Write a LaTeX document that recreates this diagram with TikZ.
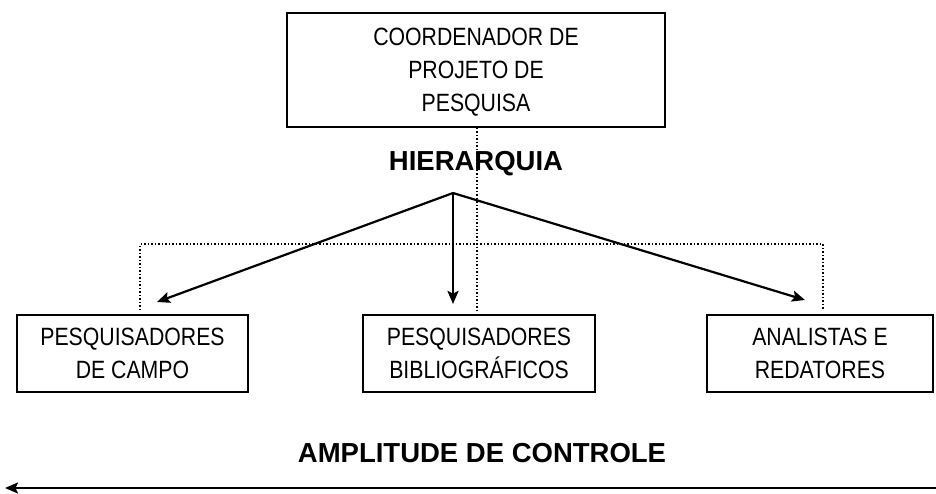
\documentclass[tikz,border=0pt]{standalone}
\usepackage{fontspec}
\setmainfont{Liberation Sans}
\newfontfamily\narrowfont{Liberation Sans}[FakeStretch=0.85]
\usetikzlibrary{arrows.meta}
\begin{document}
\begin{tikzpicture}[x=1pt,y=-1pt,
  box/.style={draw, line width=2pt, rectangle, align=center, inner sep=0pt,
    text depth=0pt, font=\narrowfont\fontsize{25}{33}\selectfont},
  title/.style={font=\fontsize{27.5}{30}\selectfont\bfseries, inner sep=0pt},
  dots/.style={dotted, line width=1.5pt},
  arr/.style={line width=2.2pt, -{Stealth[length=13pt,width=11pt,inset=2.5pt]}}
]
\useasboundingbox (0,0) rectangle (936,493);
\node[box, minimum width=378pt, minimum height=114pt] (coord) at (476,69.5)
  {COORDENADOR DE\\PROJETO DE\\PESQUISA};
\node[title] (hier) at (476,164) {HIERARQUIA};
\node[box, minimum width=231pt, minimum height=77pt] (campo) at (132.5,353.5)
  {PESQUISADORES\\DE CAMPO};
\node[box, minimum width=232pt, minimum height=77pt] (biblio) at (479,353.5)
  {PESQUISADORES\\BIBLIOGRÁFICOS};
\node[box, minimum width=226pt, minimum height=77pt] (anal) at (820,353.5)
  {ANALISTAS E\\REDATORES};
\node[title] (ampl) at (482,453) {AMPLITUDE DE CONTROLE};
% dotted lines
\coordinate (dl) at (140,310);
\coordinate (dr) at (823,310);
\coordinate (dm) at (477,310);
\draw[dots] (dl) -- (140,244) -- (823,244) -- (dr);
\draw[dots] (coord.south -| dm) -- (dm);
% arrows
\coordinate (apex) at (453,193);
\coordinate (tl) at (157,302);
\coordinate (tm) at (453,304);
\coordinate (tr) at (805,300);
\draw[arr] (apex) -- (tl);
\draw[arr] (apex) -- (tm);
\draw[arr] (apex) -- (tr);
% bottom arrow
\coordinate (br) at (936,488);
\coordinate (bl) at (5,488);
\draw[arr] (br) -- (bl);
\end{tikzpicture}
\end{document}
